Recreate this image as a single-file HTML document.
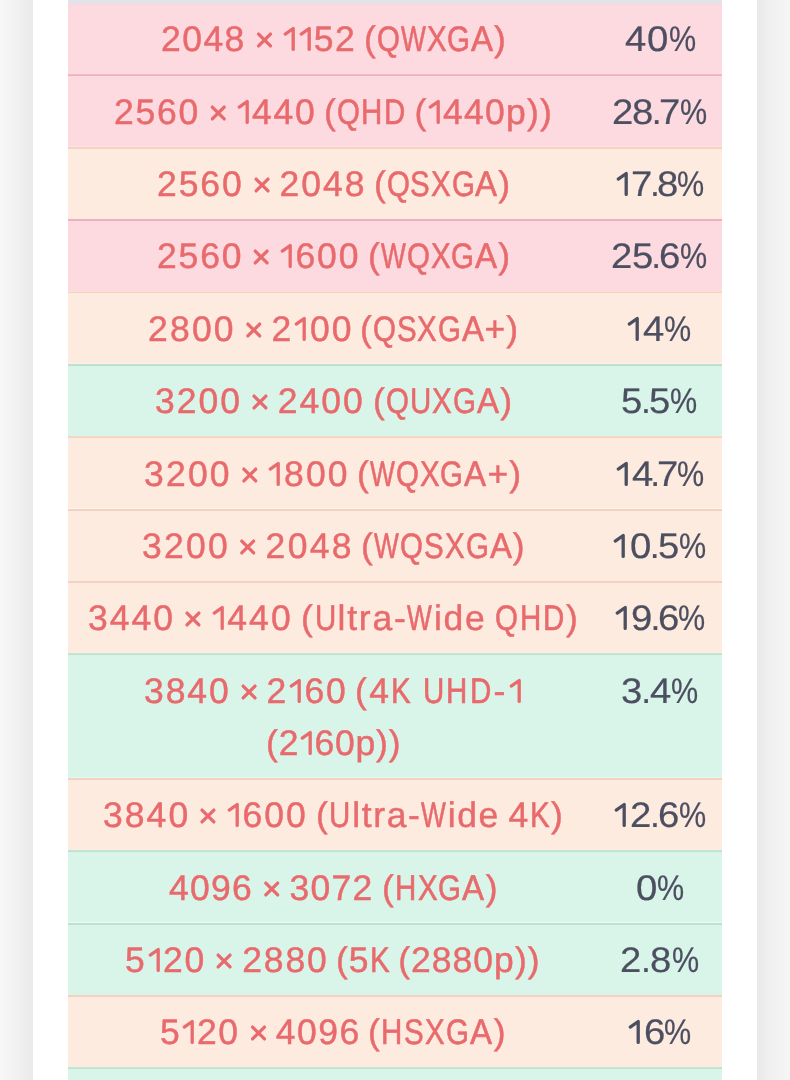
<!DOCTYPE html>
<html><head><meta charset="utf-8"><style>
html,body{margin:0;padding:0;}
body{width:790px;height:1080px;overflow:hidden;position:relative;background:#fff;font-family:"Liberation Sans",sans-serif;}
.gl{position:absolute;left:0;top:0;width:33px;height:1080px;background:linear-gradient(to right,#f7f7f7,#f0f0f0 60%,#eaeaea);}
.gr{position:absolute;left:757px;top:0;width:33px;height:1080px;background:linear-gradient(to right,#e8e8e8,#efefef 30%,#f6f6f6);}
.r{position:absolute;left:0;width:790px;box-sizing:border-box;border-top:2px solid;clip-path:inset(0 68px 0 68px);}
.r.p{background:#fdd9e0;border-color:#ecb0be;}
.r.o{background:#feebe0;border-color:#f4d2c2;}
.r.g{background:#d9f5e9;border-color:#bce2cf;}
.r.first{border-top-color:transparent;background:linear-gradient(#dde6ed 0px,#dfe4eb 1.5px,#eadfe6 3px,#f7dae0 4.5px,#fdd9e0 6.5px) border-box;}
.a,.b,.d{position:absolute;line-height:52.1px;white-space:nowrap;text-rendering:geometricPrecision;will-change:transform;}
i.o{margin-left:-2.0px;clip-path:polygon(-30px -30px,60px -30px,60px 27.8px,12.1px 27.8px,12.1px 50px,8.9px 50px,8.9px 27.8px,-30px 27.8px);}
.a,.b{color:#e86a6c;font-size:35.5px;-webkit-text-stroke:0.45px currentColor;}
b{-webkit-text-stroke:0.6px currentColor;}
.d{-webkit-text-stroke:0.2px currentColor;}
.d b{-webkit-text-stroke:0.2px currentColor;}
.d{color:#4c4f60;font-size:35.5px;}
i{font-style:normal;}
b{font-weight:normal;display:inline-block;transform-origin:0 0;}

i.t{font-size:0;line-height:0;letter-spacing:0;color:transparent;-webkit-text-stroke:0;}
svg.g{vertical-align:-4px;overflow:visible;fill:none;stroke:currentColor;stroke-width:3.3px;stroke-linecap:round;stroke-linejoin:round;}

</style></head><body>
<div class="gl"></div><div class="gr"></div>
<div class="r p first" style="top:0px;height:74.30px;border-top-width:4px"><span class="a" id="s0A" style="top:9.35px;letter-spacing:1.460px;left:160.50px;">2048<svg class="g" width="36.340" height="32" viewBox="0 0 36.340 32"><path d="M12.59 11.05L24.49 22.95M24.49 11.05L12.59 22.95"/></svg><i class="t"> × </i><svg class="g" width="15.850" height="32" viewBox="0 0 15.850 32"><path d="M3.25 11.05L11.2 5.5L11.2 26.45"/></svg><i class="t">1</i><svg class="g" width="15.850" height="32" viewBox="0 0 15.850 32"><path d="M3.25 11.05L11.2 5.5L11.2 26.45"/></svg><i class="t">1</i>52</span><span class="a" id="s0B" style="top:9.35px;letter-spacing:1.000px;left:363.50px;">(<b style="width:23.919px;transform:scaleX(0.83)">Q</b><b style="width:25.795px;transform:scaleX(0.74)">W</b><b style="width:20.653px;transform:scaleX(0.83)">X</b><b style="width:23.919px;transform:scaleX(0.83)">G</b><b style="width:23.021px;transform:scaleX(0.93)">A</b>)</span><span class="d" id="s0D" style="top:9.35px;letter-spacing:0.500px;left:624.50px;"><b style="width:21.823px;transform:scaleX(1.08)">4</b><b style="width:21.823px;transform:scaleX(1.08)">0</b><b style="width:27.646px;transform:scaleX(0.86)">%</b></span></div>
<div class="r p" style="top:74.30px;height:72.38px"><span class="a" id="s1A" style="top:9.35px;letter-spacing:1.740px;left:113.50px;">2560<svg class="g" width="36.060" height="32" viewBox="0 0 36.060 32"><path d="M12.31 11.05L24.21 22.95M24.21 11.05L12.31 22.95"/></svg><i class="t"> × </i><svg class="g" width="16.130" height="32" viewBox="0 0 16.130 32"><path d="M3.25 11.05L11.2 5.5L11.2 26.45"/></svg><i class="t">1</i>440</span><span class="a" id="s1B" style="top:9.35px;letter-spacing:1.247px;left:324.25px;">(<b style="width:24.166px;transform:scaleX(0.83)">Q</b><b style="width:22.526px;transform:scaleX(0.83)">H</b><b style="width:22.526px;transform:scaleX(0.83)">D</b><i style="letter-spacing:-1.753px"> </i>(<svg class="g" width="15.637" height="32" viewBox="0 0 15.637 32"><path d="M3.25 11.05L11.2 5.5L11.2 26.45"/></svg><i class="t">1</i>440p))</span><span class="d" id="s1D" style="top:9.35px;letter-spacing:-0.950px;left:612.00px;"><b style="width:20.373px;transform:scaleX(1.08)">2</b><b style="width:20.373px;transform:scaleX(1.08)">8</b><i style="letter-spacing:-2.450px;margin-left:-1.0px">.</i><b style="width:20.373px;transform:scaleX(1.08)">7</b><b style="width:26.196px;transform:scaleX(0.86)">%</b></span></div>
<div class="r o" style="top:146.68px;height:72.38px"><span class="a" id="s2A" style="top:9.35px;letter-spacing:1.940px;left:156.50px;">2560<svg class="g" width="35.860" height="32" viewBox="0 0 35.860 32"><path d="M12.11 11.05L24.01 22.95M24.01 11.05L12.11 22.95"/></svg><i class="t"> × </i>2048</span><span class="a" id="s2B" style="top:9.35px;letter-spacing:0.863px;left:373.50px;">(<b style="width:23.782px;transform:scaleX(0.83)">Q</b><b style="width:20.516px;transform:scaleX(0.83)">S</b><b style="width:20.516px;transform:scaleX(0.83)">X</b><b style="width:23.782px;transform:scaleX(0.83)">G</b><b style="width:22.884px;transform:scaleX(0.93)">A</b>)</span><span class="d" id="s2D" style="top:9.35px;letter-spacing:-1.600px;left:615.00px;"><svg class="g" width="16.400" height="32" viewBox="0 0 16.400 32"><path d="M3.25 11.05L11.2 5.5L11.2 26.45"/></svg><i class="t">1</i><b style="width:19.723px;transform:scaleX(1.08)">7</b><i style="letter-spacing:-3.100px;margin-left:-1.0px">.</i><b style="width:19.723px;transform:scaleX(1.08)">8</b><b style="width:25.546px;transform:scaleX(0.86)">%</b></span></div>
<div class="r p" style="top:219.06px;height:72.38px"><span class="a" id="s3A" style="top:9.35px;letter-spacing:1.840px;left:156.50px;">2560<svg class="g" width="35.960" height="32" viewBox="0 0 35.960 32"><path d="M12.21 11.05L24.11 22.95M24.11 11.05L12.21 22.95"/></svg><i class="t"> × </i><svg class="g" width="16.230" height="32" viewBox="0 0 16.230 32"><path d="M3.25 11.05L11.2 5.5L11.2 26.45"/></svg><i class="t">1</i>600</span><span class="a" id="s3B" style="top:9.35px;letter-spacing:1.029px;left:367.50px;">(<b style="width:25.824px;transform:scaleX(0.74)">W</b><b style="width:23.948px;transform:scaleX(0.83)">Q</b><b style="width:20.682px;transform:scaleX(0.83)">X</b><b style="width:23.948px;transform:scaleX(0.83)">G</b><b style="width:23.050px;transform:scaleX(0.93)">A</b>)</span><span class="d" id="s3D" style="top:9.35px;letter-spacing:-0.650px;left:610.50px;"><b style="width:20.673px;transform:scaleX(1.08)">2</b><b style="width:20.673px;transform:scaleX(1.08)">5</b><i style="letter-spacing:-2.150px;margin-left:-1.0px">.</i><b style="width:20.673px;transform:scaleX(1.08)">6</b><b style="width:26.496px;transform:scaleX(0.86)">%</b></span></div>
<div class="r o" style="top:291.44px;height:72.38px"><span class="a" id="s4A" style="top:9.35px;letter-spacing:2.200px;left:147.50px;">2800<svg class="g" width="35.600" height="32" viewBox="0 0 35.600 32"><path d="M11.85 11.05L23.75 22.95M23.75 11.05L11.85 22.95"/></svg><i class="t"> × </i>2<svg class="g" width="16.590" height="32" viewBox="0 0 16.590 32"><path d="M3.25 11.05L11.2 5.5L11.2 26.45"/></svg><i class="t">1</i>00</span><span class="a" id="s4B" style="top:9.35px;letter-spacing:0.934px;left:360.00px;">(<b style="width:23.853px;transform:scaleX(0.83)">Q</b><b style="width:20.587px;transform:scaleX(0.83)">S</b><b style="width:20.587px;transform:scaleX(0.83)">X</b><b style="width:23.853px;transform:scaleX(0.83)">G</b><b style="width:22.955px;transform:scaleX(0.93)">A</b>+)</span><span class="d" id="s4D" style="top:9.35px;letter-spacing:-0.900px;left:626.00px;"><svg class="g" width="17.100" height="32" viewBox="0 0 17.100 32"><path d="M3.25 11.05L11.2 5.5L11.2 26.45"/></svg><i class="t">1</i><b style="width:20.423px;transform:scaleX(1.08)">4</b><b style="width:26.246px;transform:scaleX(0.86)">%</b></span></div>
<div class="r g" style="top:363.82px;height:72.38px"><span class="a" id="s5A" style="top:9.35px;letter-spacing:2.020px;left:154.50px;">3200<svg class="g" width="35.780" height="32" viewBox="0 0 35.780 32"><path d="M12.03 11.05L23.93 22.95M23.93 11.05L12.03 22.95"/></svg><i class="t"> × </i>2400</span><span class="a" id="s5B" style="top:9.35px;letter-spacing:1.125px;left:372.50px;">(<b style="width:24.044px;transform:scaleX(0.83)">Q</b><b style="width:22.404px;transform:scaleX(0.83)">U</b><b style="width:20.778px;transform:scaleX(0.83)">X</b><b style="width:24.044px;transform:scaleX(0.83)">G</b><b style="width:23.146px;transform:scaleX(0.93)">A</b>)</span><span class="d" id="s5D" style="top:9.35px;letter-spacing:-0.263px;left:621.00px;"><b style="width:21.060px;transform:scaleX(1.08)">5</b><i style="letter-spacing:-1.763px;margin-left:-1.0px">.</i><b style="width:21.060px;transform:scaleX(1.08)">5</b><b style="width:26.883px;transform:scaleX(0.86)">%</b></span></div>
<div class="r o" style="top:436.20px;height:72.38px"><span class="a" id="s6A" style="top:9.35px;letter-spacing:2.200px;left:144.00px;">3200<svg class="g" width="35.600" height="32" viewBox="0 0 35.600 32"><path d="M11.85 11.05L23.75 22.95M23.75 11.05L11.85 22.95"/></svg><i class="t"> × </i><svg class="g" width="16.590" height="32" viewBox="0 0 16.590 32"><path d="M3.25 11.05L11.2 5.5L11.2 26.45"/></svg><i class="t">1</i>800</span><span class="a" id="s6B" style="top:9.35px;letter-spacing:1.070px;left:357.25px;">(<b style="width:25.865px;transform:scaleX(0.74)">W</b><b style="width:23.989px;transform:scaleX(0.83)">Q</b><b style="width:20.723px;transform:scaleX(0.83)">X</b><b style="width:23.989px;transform:scaleX(0.83)">G</b><b style="width:23.091px;transform:scaleX(0.93)">A</b>+)</span><span class="d" id="s6D" style="top:9.35px;letter-spacing:-1.500px;left:614.50px;"><svg class="g" width="16.500" height="32" viewBox="0 0 16.500 32"><path d="M3.25 11.05L11.2 5.5L11.2 26.45"/></svg><i class="t">1</i><b style="width:19.823px;transform:scaleX(1.08)">4</b><i style="letter-spacing:-3.000px;margin-left:-1.0px">.</i><b style="width:19.823px;transform:scaleX(1.08)">7</b><b style="width:25.646px;transform:scaleX(0.86)">%</b></span></div>
<div class="r o" style="top:508.58px;height:72.38px"><span class="a" id="s7A" style="top:9.35px;letter-spacing:2.280px;left:141.50px;">3200<svg class="g" width="35.520" height="32" viewBox="0 0 35.520 32"><path d="M11.77 11.05L23.67 22.95M23.67 11.05L11.77 22.95"/></svg><i class="t"> × </i>2048</span><span class="a" id="s7B" style="top:9.35px;letter-spacing:1.154px;left:360.50px;">(<b style="width:25.949px;transform:scaleX(0.74)">W</b><b style="width:24.073px;transform:scaleX(0.83)">Q</b><b style="width:20.807px;transform:scaleX(0.83)">S</b><b style="width:20.807px;transform:scaleX(0.83)">X</b><b style="width:24.073px;transform:scaleX(0.83)">G</b><b style="width:23.175px;transform:scaleX(0.93)">A</b>)</span><span class="d" id="s7D" style="top:9.35px;letter-spacing:-0.300px;left:612.00px;"><svg class="g" width="17.700" height="32" viewBox="0 0 17.700 32"><path d="M3.25 11.05L11.2 5.5L11.2 26.45"/></svg><i class="t">1</i><b style="width:21.023px;transform:scaleX(1.08)">0</b><i style="letter-spacing:-1.800px;margin-left:-1.0px">.</i><b style="width:21.023px;transform:scaleX(1.08)">5</b><b style="width:26.846px;transform:scaleX(0.86)">%</b></span></div>
<div class="r o" style="top:580.96px;height:72.38px"><span class="a" id="s8A" style="top:9.35px;letter-spacing:2.040px;left:87.50px;">3440<svg class="g" width="35.760" height="32" viewBox="0 0 35.760 32"><path d="M12.01 11.05L23.91 22.95M23.91 11.05L12.01 22.95"/></svg><i class="t"> × </i><svg class="g" width="16.430" height="32" viewBox="0 0 16.430 32"><path d="M3.25 11.05L11.2 5.5L11.2 26.45"/></svg><i class="t">1</i>440</span><span class="a" id="s8B" style="top:9.35px;letter-spacing:1.742px;left:301.00px;">(<b style="width:23.021px;transform:scaleX(0.83)">U</b>ltra-<b style="width:26.537px;transform:scaleX(0.74)">W</b>ide<i style="letter-spacing:-1.258px"> </i><b style="width:24.661px;transform:scaleX(0.83)">Q</b><b style="width:23.021px;transform:scaleX(0.83)">H</b><b style="width:23.021px;transform:scaleX(0.83)">D</b>)</span><span class="d" id="s8D" style="top:9.35px;letter-spacing:-0.950px;left:614.00px;"><svg class="g" width="17.050" height="32" viewBox="0 0 17.050 32"><path d="M3.25 11.05L11.2 5.5L11.2 26.45"/></svg><i class="t">1</i><b style="width:20.373px;transform:scaleX(1.08)">9</b><i style="letter-spacing:-2.450px;margin-left:-1.0px">.</i><b style="width:20.373px;transform:scaleX(1.08)">6</b><b style="width:26.196px;transform:scaleX(0.86)">%</b></span></div>
<div class="r g" style="top:653.34px;height:124.48px"><span class="a" id="s9A" style="top:9.35px;letter-spacing:1.900px;left:144.00px;">3840<svg class="g" width="35.900" height="32" viewBox="0 0 35.900 32"><path d="M12.15 11.05L24.05 22.95M24.05 11.05L12.15 22.95"/></svg><i class="t"> × </i>2<svg class="g" width="16.290" height="32" viewBox="0 0 16.290 32"><path d="M3.25 11.05L11.2 5.5L11.2 26.45"/></svg><i class="t">1</i>60</span><span class="a" id="s9B" style="top:9.35px;letter-spacing:2.378px;left:355.00px;">(4<b style="width:22.031px;transform:scaleX(0.83)">K</b><i style="letter-spacing:-0.622px"> </i><b style="width:23.657px;transform:scaleX(0.83)">U</b><b style="width:23.657px;transform:scaleX(0.83)">H</b><b style="width:23.657px;transform:scaleX(0.83)">D</b>-<svg class="g" width="16.768" height="32" viewBox="0 0 16.768 32"><path d="M3.25 11.05L11.2 5.5L11.2 26.45"/></svg><i class="t">1</i></span><span class="a" id="s9C" style="top:61.45px;letter-spacing:0.812px;left:266.00px;">(2<svg class="g" width="15.202" height="32" viewBox="0 0 15.202 32"><path d="M3.25 11.05L11.2 5.5L11.2 26.45"/></svg><i class="t">1</i>60p))</span><span class="d" id="s9D" style="top:9.35px;letter-spacing:-0.071px;left:621.00px;"><b style="width:21.252px;transform:scaleX(1.08)">3</b><i style="letter-spacing:-1.571px;margin-left:-1.0px">.</i><b style="width:21.252px;transform:scaleX(1.08)">4</b><b style="width:27.075px;transform:scaleX(0.86)">%</b></span></div>
<div class="r o" style="top:777.82px;height:72.38px"><span class="a" id="s10A" style="top:9.35px;letter-spacing:2.060px;left:103.00px;">3840<svg class="g" width="35.740" height="32" viewBox="0 0 35.740 32"><path d="M11.99 11.05L23.89 22.95M23.89 11.05L11.99 22.95"/></svg><i class="t"> × </i><svg class="g" width="16.450" height="32" viewBox="0 0 16.450 32"><path d="M3.25 11.05L11.2 5.5L11.2 26.45"/></svg><i class="t">1</i>600</span><span class="a" id="s10B" style="top:9.35px;letter-spacing:1.595px;left:315.50px;">(<b style="width:22.874px;transform:scaleX(0.83)">U</b>ltra-<b style="width:26.390px;transform:scaleX(0.74)">W</b>ide<i style="letter-spacing:-1.405px"> </i>4<b style="width:21.248px;transform:scaleX(0.83)">K</b>)</span><span class="d" id="s10D" style="top:9.35px;letter-spacing:-0.600px;left:613.00px;"><svg class="g" width="17.400" height="32" viewBox="0 0 17.400 32"><path d="M3.25 11.05L11.2 5.5L11.2 26.45"/></svg><i class="t">1</i><b style="width:20.723px;transform:scaleX(1.08)">2</b><i style="letter-spacing:-2.100px;margin-left:-1.0px">.</i><b style="width:20.723px;transform:scaleX(1.08)">6</b><b style="width:26.546px;transform:scaleX(0.86)">%</b></span></div>
<div class="r g" style="top:850.20px;height:72.38px"><span class="a" id="s11A" style="top:9.35px;letter-spacing:1.240px;left:169.00px;">4096<svg class="g" width="36.560" height="32" viewBox="0 0 36.560 32"><path d="M12.81 11.05L24.71 22.95M24.71 11.05L12.81 22.95"/></svg><i class="t"> × </i>3072</span><span class="a" id="s11B" style="top:9.35px;letter-spacing:1.200px;left:381.50px;">(<b style="width:22.479px;transform:scaleX(0.83)">H</b><b style="width:20.853px;transform:scaleX(0.83)">X</b><b style="width:24.119px;transform:scaleX(0.83)">G</b><b style="width:23.221px;transform:scaleX(0.93)">A</b>)</span><span class="d" id="s11D" style="top:9.35px;letter-spacing:0.000px;left:636.00px;"><b style="width:21.323px;transform:scaleX(1.08)">0</b><b style="width:27.146px;transform:scaleX(0.86)">%</b></span></div>
<div class="r g" style="top:922.58px;height:72.38px"><span class="a" id="s12A" style="top:9.35px;letter-spacing:1.900px;left:125.00px;">5<svg class="g" width="16.290" height="32" viewBox="0 0 16.290 32"><path d="M3.25 11.05L11.2 5.5L11.2 26.45"/></svg><i class="t">1</i>20<svg class="g" width="35.900" height="32" viewBox="0 0 35.900 32"><path d="M12.15 11.05L24.05 22.95M24.05 11.05L12.15 22.95"/></svg><i class="t"> × </i>2880</span><span class="a" id="s12B" style="top:9.35px;letter-spacing:1.026px;left:335.50px;">(5<b style="width:20.679px;transform:scaleX(0.83)">K</b><i style="letter-spacing:-1.974px"> </i>(2880p))</span><span class="d" id="s12D" style="top:9.35px;letter-spacing:0.725px;left:619.50px;"><b style="width:22.048px;transform:scaleX(1.08)">2</b><i style="letter-spacing:-0.775px;margin-left:-1.0px">.</i><b style="width:22.048px;transform:scaleX(1.08)">8</b><b style="width:27.871px;transform:scaleX(0.86)">%</b></span></div>
<div class="r o" style="top:994.96px;height:72.38px"><span class="a" id="s13A" style="top:9.35px;letter-spacing:1.480px;left:159.50px;">5<svg class="g" width="15.870" height="32" viewBox="0 0 15.870 32"><path d="M3.25 11.05L11.2 5.5L11.2 26.45"/></svg><i class="t">1</i>20<svg class="g" width="36.320" height="32" viewBox="0 0 36.320 32"><path d="M12.57 11.05L24.47 22.95M24.47 11.05L12.57 22.95"/></svg><i class="t"> × </i>4096</span><span class="a" id="s13B" style="top:9.35px;letter-spacing:1.412px;left:368.00px;">(<b style="width:22.691px;transform:scaleX(0.83)">H</b><b style="width:21.065px;transform:scaleX(0.83)">S</b><b style="width:21.065px;transform:scaleX(0.83)">X</b><b style="width:24.331px;transform:scaleX(0.83)">G</b><b style="width:23.433px;transform:scaleX(0.93)">A</b>)</span><span class="d" id="s13D" style="top:9.35px;letter-spacing:-1.400px;left:626.50px;"><svg class="g" width="16.600" height="32" viewBox="0 0 16.600 32"><path d="M3.25 11.05L11.2 5.5L11.2 26.45"/></svg><i class="t">1</i><b style="width:19.923px;transform:scaleX(1.08)">6</b><b style="width:25.746px;transform:scaleX(0.86)">%</b></span></div>
<div class="r g" style="top:1067.34px;height:72.38px"></div>
</body></html>
